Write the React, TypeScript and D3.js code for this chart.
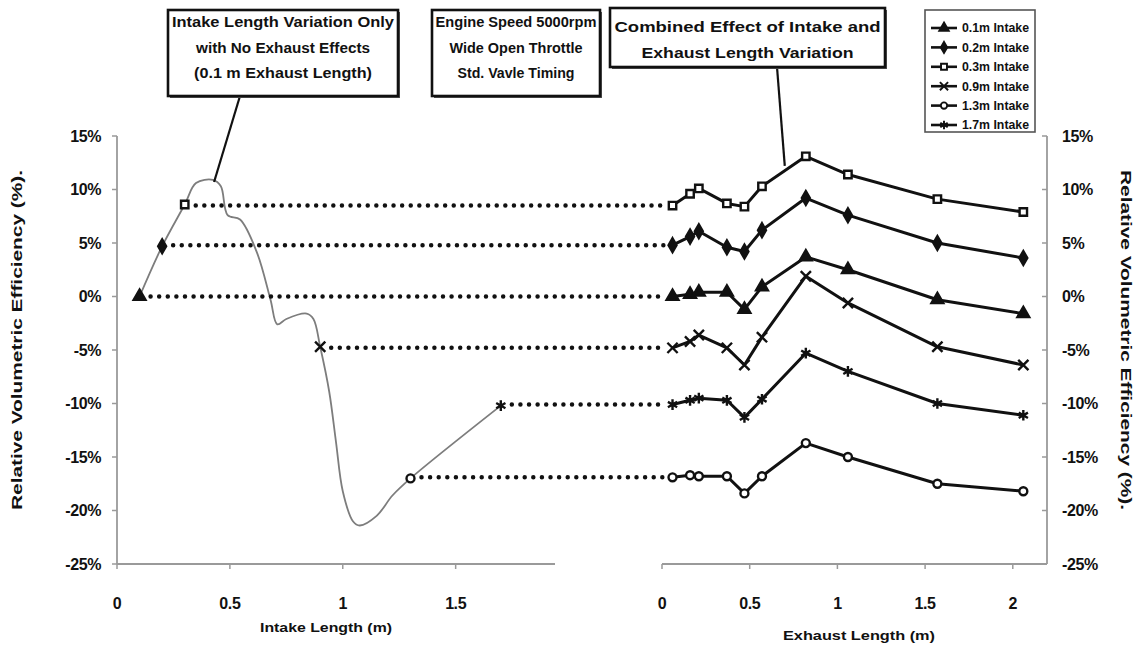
import * as d3 from "d3";
import { useEffect, useRef } from "react";

const W = 1139;
const H = 647;

// exhaust lengths (m) used in the combined runs (right panel)
const exhaustLengths = [0.06, 0.16, 0.21, 0.37, 0.47, 0.57, 0.82, 1.06, 1.57, 2.06];

// relative volumetric efficiency (%) for each intake length
const intake01 = [0.0, 0.2, 0.4, 0.4, -1.2, 0.9, 3.7, 2.5, -0.3, -1.6];
const intake02 = [4.8, 5.6, 6.1, 4.6, 4.2, 6.2, 9.2, 7.6, 5.0, 3.6];
const intake03 = [8.5, 9.6, 10.1, 8.7, 8.4, 10.3, 13.1, 11.4, 9.1, 7.9];
const intake09 = [-4.8, -4.2, -3.6, -4.8, -6.4, -3.8, 1.9, -0.6, -4.7, -6.4];
const intake13 = [-16.9, -16.7, -16.8, -16.8, -18.4, -16.8, -13.7, -15.0, -17.5, -18.2];
const intake17 = [-10.1, -9.7, -9.5, -9.7, -11.3, -9.6, -5.3, -7.0, -10.0, -11.1];

// left panel: intake length sweep with 0.1 m exhaust
const sweepLength = [0.1, 0.2, 0.3, 0.35, 0.425, 0.46, 0.49, 0.545, 0.62, 0.68, 0.71, 0.75, 0.84, 0.87, 0.9, 0.94, 0.97, 1.0, 1.045, 1.075, 1.15, 1.22, 1.3, 1.7];
const sweepValue = [0.0, 4.7, 8.6, 10.6, 10.9, 10.3, 7.6, 7.2, 4.1, -0.3, -2.6, -2.1, -1.6, -2.1, -4.7, -8.9, -13.6, -18.2, -21.0, -21.4, -20.5, -18.6, -17.0, -10.2];

const seriesNames = ["0.1m Intake", "0.2m Intake", "0.3m Intake", "0.9m Intake", "1.3m Intake", "1.7m Intake"];
const seriesIntake = [0.1, 0.2, 0.3, 0.9, 1.3, 1.7];
const seriesValues = [intake01, intake02, intake03, intake09, intake13, intake17];

const yTicks = [15, 10, 5, 0, -5, -10, -15, -20, -25];
const intakeTicks = [0, 0.5, 1, 1.5];
const exhaustTicks = [0, 0.5, 1, 1.5, 2];

const box1Lines = ["Intake Length Variation Only", "with No Exhaust Effects", "(0.1 m Exhaust Length)"];
const box2Lines = ["Engine Speed 5000rpm", "Wide Open Throttle", "Std. Vavle Timing"];
const box3Lines = ["Combined Effect of Intake and", "Exhaust Length Variation"];
const yTitle = "Relative Volumetric Efficiency (%).";

// text widths
const box1Widths = [222, 174, 178];
const box2Widths = [161, 133, 117];
const box3Widths = [266, 212];

const FONT = "'Liberation Sans', Arial, Helvetica, sans-serif";
const AXIS_GREY = "#9a9a9a";

const symbols = [d3.symbolTriangle, d3.symbolDiamond, d3.symbolSquare, d3.symbolTimes, d3.symbolCircle, d3.symbolAsterisk];
const symbolSizes = [60, 55, 55, 70, 50, 80];
const symbolFilled = [true, true, false, false, false, false];

const App = () => {
	const chartRef = useRef(null);

	useEffect(() => {
		const svg = d3.select(chartRef.current);
		svg.selectAll("*").remove();

		// scales shared by both panels
		const y = d3.scaleLinear().domain([-25, 15]).range([564, 136]);
		const xL = d3.scaleLinear().domain([0, 1.94]).range([117, 555]);
		const xR = d3.scaleLinear().domain([0, 2.195]).range([662, 1047]);

		const drawMarker = (g, i, cx, cy, k = 1) => {
			g.append("path")
				.attr("d", d3.symbol().type(symbols[i]).size(symbolSizes[i])())
				.attr("transform", `translate(${cx},${cy}) scale(${k})`)
				.attr("fill", symbolFilled[i] ? "#111" : "#fff")
				.attr("stroke", "#111")
				.attr("stroke-width", 2.4);
		};

		// ---- left axes ----
		const axL = svg.append("g");
		axL.append("line").attr("x1", xL(0)).attr("x2", xL(0)).attr("y1", y(15)).attr("y2", y(-25))
			.attr("stroke", AXIS_GREY).attr("stroke-width", 1.8);
		axL.append("line").attr("x1", xL(0)).attr("x2", xL(1.94)).attr("y1", y(-25)).attr("y2", y(-25))
			.attr("stroke", AXIS_GREY).attr("stroke-width", 1.8);
		yTicks.forEach(t => {
			axL.append("line").attr("x1", xL(0) - 5).attr("x2", xL(0)).attr("y1", y(t)).attr("y2", y(t))
				.attr("stroke", AXIS_GREY).attr("stroke-width", 1.5);
			axL.append("text").attr("x", 101).attr("y", y(t)).attr("dy", "0.36em")
				.attr("text-anchor", "end").text(`${t}%`);
		});
		intakeTicks.forEach(t => {
			axL.append("line").attr("x1", xL(t)).attr("x2", xL(t)).attr("y1", y(-25)).attr("y2", y(-25) + 5)
				.attr("stroke", AXIS_GREY).attr("stroke-width", 1.5);
			axL.append("text").attr("x", xL(t)).attr("y", 603).attr("dy", "0.36em")
				.attr("text-anchor", "middle").text(t);
		});

		// ---- right axes ----
		const axR = svg.append("g");
		axR.append("line").attr("x1", xR(2.195)).attr("x2", xR(2.195)).attr("y1", y(15)).attr("y2", y(-25))
			.attr("stroke", AXIS_GREY).attr("stroke-width", 1.8);
		axR.append("line").attr("x1", xR(0)).attr("x2", xR(2.195)).attr("y1", y(-25)).attr("y2", y(-25))
			.attr("stroke", AXIS_GREY).attr("stroke-width", 1.8);
		yTicks.forEach(t => {
			axR.append("line").attr("x1", xR(2.195) - 5).attr("x2", xR(2.195)).attr("y1", y(t)).attr("y2", y(t))
				.attr("stroke", AXIS_GREY).attr("stroke-width", 1.5);
			axR.append("text").attr("x", 1062).attr("y", y(t)).attr("dy", "0.36em")
				.attr("text-anchor", "start").text(`${t}%`);
		});
		exhaustTicks.forEach(t => {
			axR.append("line").attr("x1", xR(t)).attr("x2", xR(t)).attr("y1", y(-25)).attr("y2", y(-25) + 5)
				.attr("stroke", AXIS_GREY).attr("stroke-width", 1.5);
			axR.append("text").attr("x", xR(t)).attr("y", 603).attr("dy", "0.36em")
				.attr("text-anchor", "middle").text(t);
		});
		svg.selectAll("text").attr("font-family", FONT).attr("font-weight", "bold").attr("font-size", 16)
			.attr("fill", "#111").attr("letter-spacing", -0.4);

		// axis titles
		const titles = svg.append("g").attr("font-family", FONT).attr("font-weight", "bold").attr("fill", "#111");
		titles.append("text").attr("transform", "translate(22,340) rotate(-90)").attr("text-anchor", "middle")
			.attr("font-size", 14).attr("textLength", 340).attr("lengthAdjust", "spacingAndGlyphs").text(yTitle);
		titles.append("text").attr("transform", "translate(1121,340) rotate(90)").attr("text-anchor", "middle")
			.attr("font-size", 14).attr("textLength", 340).attr("lengthAdjust", "spacingAndGlyphs").text(yTitle);
		titles.append("text").attr("x", 326).attr("y", 632).attr("text-anchor", "middle")
			.attr("font-size", 13).attr("textLength", 132).attr("lengthAdjust", "spacingAndGlyphs").text("Intake Length (m)");
		titles.append("text").attr("x", 859).attr("y", 640).attr("text-anchor", "middle")
			.attr("font-size", 13).attr("textLength", 152).attr("lengthAdjust", "spacingAndGlyphs").text("Exhaust Length (m)");

		// ---- left panel: intake sweep curve ----
		const sweep = d3.zip(sweepLength, sweepValue);
		const sweepLine = d3.line().x(d => xL(d[0])).y(d => y(d[1])).curve(d3.curveCatmullRom.alpha(0.5));
		svg.append("path").attr("d", sweepLine(sweep)).attr("fill", "none")
			.attr("stroke", "#7d7d7d").attr("stroke-width", 1.8);

		// ---- dotted connectors from left markers to right series ----
		seriesValues.forEach((vals, i) => {
			const idx = sweepLength.indexOf(seriesIntake[i]);
			svg.append("line")
				.attr("x1", xL(seriesIntake[i]) + 11).attr("x2", xR(exhaustLengths[0]) - 9)
				.attr("y1", y(vals[0])).attr("y2", y(vals[0]))
				.attr("stroke", "#111").attr("stroke-width", 4.5)
				.attr("stroke-linecap", "round").attr("stroke-dasharray", "0 8.6");
			drawMarker(svg, i, xL(seriesIntake[i]), y(sweepValue[idx]));
		});

		// ---- right panel: combined effect series ----
		const line = d3.line().x(d => xR(d[0])).y(d => y(d[1]));
		seriesValues.forEach((vals, i) => {
			const pts = d3.zip(exhaustLengths, vals);
			svg.append("path").attr("d", line(pts)).attr("fill", "none")
				.attr("stroke", "#111").attr("stroke-width", 3).attr("stroke-linejoin", "round");
			pts.forEach(p => drawMarker(svg, i, xR(p[0]), y(p[1])));
		});

		// ---- annotation boxes ----
		const drawBox = (x, yy, w, h, lines, widths, step, top) => {
			const g = svg.append("g");
			g.append("rect").attr("x", x + 2).attr("y", yy + 2).attr("width", w).attr("height", h).attr("fill", "#555");
			g.append("rect").attr("x", x).attr("y", yy).attr("width", w).attr("height", h)
				.attr("fill", "#fff").attr("stroke", "#111").attr("stroke-width", 2.6);
			lines.forEach((t, k) => {
				g.append("text").attr("x", x + w / 2).attr("y", yy + top + k * step)
					.attr("text-anchor", "middle").attr("font-family", FONT).attr("font-weight", "bold")
					.attr("font-size", 14).attr("fill", "#111")
					.attr("textLength", widths[k]).attr("lengthAdjust", "spacingAndGlyphs").text(t);
			});
		};

		// leader lines
		svg.append("line").attr("x1", 240).attr("y1", 96).attr("x2", xL(0.43)).attr("y2", y(10.7))
			.attr("stroke", "#111").attr("stroke-width", 2.2);
		svg.append("line").attr("x1", 777).attr("y1", 67).attr("x2", xR(0.7)).attr("y2", y(12.2))
			.attr("stroke", "#111").attr("stroke-width", 2.2);

		drawBox(168, 10, 230, 86, box1Lines, box1Widths, 25.5, 17);
		drawBox(432, 10, 168, 86, box2Lines, box2Widths, 25.5, 17);
		drawBox(610, 8, 275, 59, box3Lines, box3Widths, 26, 24);

		// ---- legend ----
		const leg = svg.append("g");
		leg.append("rect").attr("x", 925).attr("y", 10).attr("width", 110).attr("height", 122)
			.attr("fill", "#fff").attr("stroke", "#555").attr("stroke-width", 1.6);
		seriesNames.forEach((name, i) => {
			const ly = 28 + i * 19.4;
			leg.append("line").attr("x1", 931).attr("x2", 957).attr("y1", ly).attr("y2", ly)
				.attr("stroke", "#111").attr("stroke-width", 2.6);
			drawMarker(leg, i, 944, ly, 0.8);
			leg.append("text").attr("x", 962).attr("y", ly).attr("dy", "0.36em")
				.attr("font-family", FONT).attr("font-weight", "bold").attr("font-size", 12)
				.attr("textLength", 67).attr("lengthAdjust", "spacingAndGlyphs")
				.attr("fill", "#111").text(name);
		});
	}, []);

	return (
		<svg ref={chartRef} width={W} height={H} style={{ position: "absolute", left: 0, top: 0, background: "#fff" }}></svg>
	);
};

export default App;
